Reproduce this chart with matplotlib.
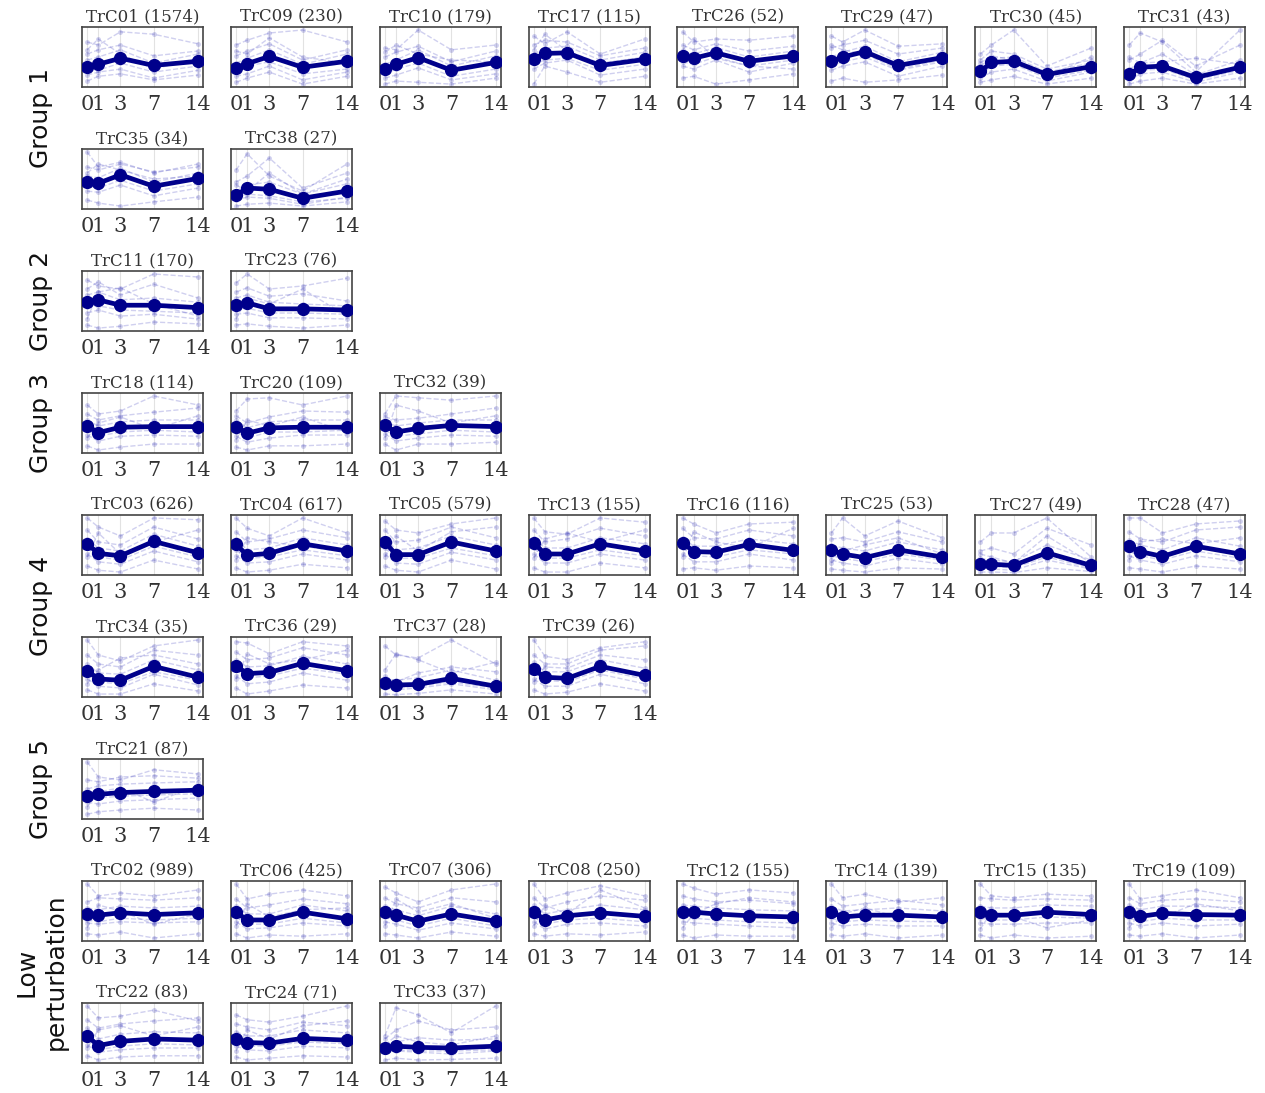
import matplotlib
matplotlib.use("Agg")
import matplotlib.pyplot as plt

# ---------------- data ----------------
# time points (days): the axis spaces them evenly-ish, not to scale
day_labels = ["0", "1", "3", "7", "14"]
x_pos = [0, 1, 3, 6, 10]

# group label -> rows of clusters (one list per figure row)
group_names = ["Group 1", "Group 2", "Group 3", "Group 4", "Group 5", "Low\nperturbation"]
group_rows = [
    [["TrC01", "TrC09", "TrC10", "TrC17", "TrC26", "TrC29", "TrC30", "TrC31"],
     ["TrC35", "TrC38"]],
    [["TrC11", "TrC23"]],
    [["TrC18", "TrC20", "TrC32"]],
    [["TrC03", "TrC04", "TrC05", "TrC13", "TrC16", "TrC25", "TrC27", "TrC28"],
     ["TrC34", "TrC36", "TrC37", "TrC39"]],
    [["TrC21"]],
    [["TrC02", "TrC06", "TrC07", "TrC08", "TrC12", "TrC14", "TrC15", "TrC19"],
     ["TrC22", "TrC24", "TrC33"]],
]

# number of genes in each cluster
sizes = {
    "TrC01": 1574, "TrC09": 230, "TrC10": 179, "TrC17": 115, "TrC26": 52,
    "TrC29": 47, "TrC30": 45, "TrC31": 43, "TrC35": 34, "TrC38": 27,
    "TrC11": 170, "TrC23": 76, "TrC18": 114, "TrC20": 109, "TrC32": 39,
    "TrC03": 626, "TrC04": 617, "TrC05": 579, "TrC13": 155, "TrC16": 116,
    "TrC25": 53, "TrC27": 49, "TrC28": 47, "TrC34": 35, "TrC36": 29,
    "TrC37": 28, "TrC39": 26, "TrC21": 87, "TrC02": 989, "TrC06": 425,
    "TrC07": 306, "TrC08": 250, "TrC12": 155, "TrC14": 139, "TrC15": 135,
    "TrC19": 109, "TrC22": 83, "TrC24": 71, "TrC33": 37,
}

# cluster mean profile (scaled 0..1 within each panel)
means = {
    "TrC01": [0.34, 0.38, 0.48, 0.36, 0.43],
    "TrC09": [0.31, 0.39, 0.51, 0.33, 0.43],
    "TrC10": [0.30, 0.38, 0.49, 0.28, 0.41],
    "TrC17": [0.47, 0.56, 0.57, 0.36, 0.46],
    "TrC26": [0.51, 0.48, 0.57, 0.43, 0.52],
    "TrC29": [0.43, 0.50, 0.59, 0.36, 0.49],
    "TrC30": [0.26, 0.41, 0.43, 0.21, 0.34],
    "TrC31": [0.21, 0.33, 0.35, 0.16, 0.33],
    "TrC35": [0.45, 0.43, 0.57, 0.38, 0.51],
    "TrC38": [0.23, 0.35, 0.33, 0.18, 0.30],
    "TrC11": [0.49, 0.52, 0.43, 0.43, 0.39],
    "TrC23": [0.43, 0.47, 0.37, 0.37, 0.35],
    "TrC18": [0.45, 0.34, 0.43, 0.44, 0.44],
    "TrC20": [0.44, 0.33, 0.42, 0.43, 0.43],
    "TrC32": [0.46, 0.35, 0.41, 0.46, 0.44],
    "TrC03": [0.52, 0.36, 0.32, 0.56, 0.37],
    "TrC04": [0.51, 0.33, 0.36, 0.52, 0.40],
    "TrC05": [0.55, 0.34, 0.34, 0.55, 0.40],
    "TrC13": [0.54, 0.35, 0.35, 0.52, 0.40],
    "TrC16": [0.54, 0.39, 0.38, 0.51, 0.41],
    "TrC25": [0.42, 0.35, 0.29, 0.42, 0.30],
    "TrC27": [0.19, 0.18, 0.16, 0.37, 0.16],
    "TrC28": [0.48, 0.39, 0.31, 0.48, 0.35],
    "TrC34": [0.44, 0.30, 0.28, 0.51, 0.33],
    "TrC36": [0.52, 0.39, 0.41, 0.56, 0.44],
    "TrC37": [0.23, 0.20, 0.21, 0.31, 0.18],
    "TrC39": [0.46, 0.33, 0.31, 0.51, 0.36],
    "TrC21": [0.39, 0.41, 0.44, 0.46, 0.48],
    "TrC02": [0.45, 0.43, 0.47, 0.44, 0.47],
    "TrC06": [0.48, 0.35, 0.35, 0.48, 0.37],
    "TrC07": [0.48, 0.43, 0.33, 0.45, 0.33],
    "TrC08": [0.49, 0.35, 0.42, 0.47, 0.41],
    "TrC12": [0.49, 0.48, 0.45, 0.42, 0.40],
    "TrC14": [0.48, 0.40, 0.43, 0.43, 0.40],
    "TrC15": [0.48, 0.43, 0.43, 0.48, 0.44],
    "TrC19": [0.49, 0.41, 0.46, 0.44, 0.43],
    "TrC22": [0.45, 0.29, 0.36, 0.40, 0.38],
    "TrC24": [0.40, 0.34, 0.33, 0.41, 0.38],
    "TrC33": [0.25, 0.28, 0.26, 0.25, 0.28],
}

# a handful of member profiles per cluster (the faint dashed lines)
members = {
    "TrC01": [[0.75, 0.70, 0.92, 0.88, 0.72], [0.55, 0.62, 0.70, 0.52, 0.60], [0.20, 0.25, 0.30, 0.15, 0.28],
              [0.10, 0.18, 0.22, 0.12, 0.20], [0.45, 0.50, 0.62, 0.40, 0.55], [0.30, 0.28, 0.40, 0.25, 0.35],
              [0.62, 0.80, 0.55, 0.30, 0.48]],
    "TrC09": [[0.70, 0.78, 0.90, 0.95, 0.75], [0.52, 0.60, 0.72, 0.45, 0.62], [0.18, 0.22, 0.35, 0.12, 0.25],
              [0.08, 0.15, 0.25, 0.05, 0.18], [0.40, 0.48, 0.62, 0.38, 0.55], [0.25, 0.35, 0.42, 0.22, 0.30],
              [0.60, 0.55, 0.82, 0.50, 0.40]],
    "TrC10": [[0.65, 0.62, 0.95, 0.62, 0.70], [0.50, 0.58, 0.68, 0.42, 0.60], [0.15, 0.20, 0.32, 0.12, 0.22],
              [0.05, 0.10, 0.08, 0.05, 0.15], [0.38, 0.45, 0.62, 0.35, 0.52], [0.22, 0.30, 0.40, 0.18, 0.30],
              [0.58, 0.70, 0.55, 0.45, 0.42]],
    "TrC17": [[0.85, 0.72, 0.92, 0.55, 0.80], [0.70, 0.78, 0.75, 0.52, 0.65], [0.30, 0.40, 0.45, 0.20, 0.30],
              [0.05, 0.35, 0.25, 0.08, 0.18], [0.55, 0.65, 0.68, 0.45, 0.58], [0.38, 0.45, 0.48, 0.28, 0.38],
              [0.62, 0.88, 0.60, 0.40, 0.50]],
    "TrC26": [[0.92, 0.75, 0.80, 0.78, 0.85], [0.70, 0.62, 0.72, 0.60, 0.68], [0.35, 0.30, 0.45, 0.25, 0.40],
              [0.15, 0.18, 0.05, 0.12, 0.22], [0.58, 0.55, 0.66, 0.50, 0.60], [0.42, 0.38, 0.50, 0.35, 0.45],
              [0.62, 0.80, 0.48, 0.35, 0.30]],
    "TrC29": [[0.85, 0.75, 0.95, 0.68, 0.72], [0.65, 0.70, 0.78, 0.55, 0.65], [0.28, 0.35, 0.42, 0.18, 0.35],
              [0.10, 0.15, 0.08, 0.12, 0.20], [0.50, 0.58, 0.68, 0.42, 0.58], [0.35, 0.42, 0.50, 0.28, 0.42],
              [0.70, 0.62, 0.55, 0.30, 0.45]],
    "TrC30": [[0.55, 0.70, 0.95, 0.35, 0.65], [0.45, 0.60, 0.55, 0.30, 0.45], [0.15, 0.25, 0.30, 0.10, 0.25],
              [0.08, 0.12, 0.18, 0.05, 0.15], [0.35, 0.48, 0.50, 0.25, 0.40], [0.20, 0.35, 0.38, 0.15, 0.28],
              [0.40, 0.52, 0.45, 0.18, 0.50]],
    "TrC31": [[0.70, 0.90, 0.75, 0.25, 0.95], [0.45, 0.55, 0.78, 0.35, 0.70], [0.12, 0.22, 0.25, 0.08, 0.25],
              [0.05, 0.10, 0.15, 0.05, 0.15], [0.30, 0.40, 0.55, 0.20, 0.45], [0.18, 0.28, 0.30, 0.12, 0.28],
              [0.50, 0.40, 0.42, 0.48, 0.38]],
    "TrC35": [[0.95, 0.70, 0.78, 0.60, 0.75], [0.70, 0.65, 0.75, 0.62, 0.70], [0.30, 0.28, 0.40, 0.22, 0.35],
              [0.15, 0.10, 0.05, 0.12, 0.20], [0.55, 0.52, 0.68, 0.45, 0.60], [0.38, 0.35, 0.48, 0.30, 0.42],
              [0.60, 0.75, 0.65, 0.50, 0.55]],
    "TrC38": [[0.65, 0.92, 0.55, 0.30, 0.75], [0.45, 0.55, 0.85, 0.35, 0.60], [0.15, 0.20, 0.18, 0.08, 0.20],
              [0.05, 0.08, 0.10, 0.05, 0.12], [0.30, 0.40, 0.45, 0.25, 0.42], [0.20, 0.25, 0.22, 0.12, 0.18],
              [0.40, 0.30, 0.60, 0.25, 0.50]],
    "TrC11": [[0.85, 0.75, 0.70, 0.95, 0.90], [0.70, 0.82, 0.60, 0.78, 0.55], [0.30, 0.35, 0.25, 0.28, 0.20],
              [0.10, 0.05, 0.08, 0.15, 0.12], [0.60, 0.65, 0.52, 0.55, 0.48], [0.40, 0.42, 0.35, 0.33, 0.30],
              [0.20, 0.65, 0.72, 0.45, 0.25]],
    "TrC23": [[0.80, 0.95, 0.70, 0.75, 0.88], [0.65, 0.72, 0.58, 0.62, 0.50], [0.28, 0.30, 0.22, 0.22, 0.20],
              [0.10, 0.12, 0.08, 0.05, 0.10], [0.55, 0.60, 0.48, 0.45, 0.42], [0.35, 0.38, 0.30, 0.30, 0.28],
              [0.20, 0.55, 0.45, 0.70, 0.25]],
    "TrC18": [[0.80, 0.65, 0.70, 0.95, 0.80], [0.65, 0.55, 0.62, 0.68, 0.75], [0.30, 0.20, 0.28, 0.30, 0.28],
              [0.12, 0.05, 0.10, 0.15, 0.15], [0.55, 0.45, 0.52, 0.55, 0.55], [0.38, 0.28, 0.35, 0.38, 0.35],
              [0.25, 0.50, 0.60, 0.40, 0.62]],
    "TrC20": [[0.70, 0.90, 0.92, 0.80, 0.95], [0.62, 0.50, 0.60, 0.70, 0.68], [0.28, 0.18, 0.25, 0.30, 0.30],
              [0.10, 0.05, 0.12, 0.12, 0.15], [0.55, 0.42, 0.52, 0.55, 0.55], [0.35, 0.25, 0.35, 0.35, 0.38],
              [0.22, 0.55, 0.45, 0.60, 0.35]],
    "TrC32": [[0.65, 0.95, 0.92, 0.88, 0.95], [0.60, 0.55, 0.58, 0.65, 0.75], [0.32, 0.20, 0.25, 0.30, 0.28],
              [0.15, 0.05, 0.15, 0.15, 0.18], [0.52, 0.45, 0.50, 0.55, 0.55], [0.38, 0.28, 0.32, 0.38, 0.35],
              [0.25, 0.80, 0.70, 0.50, 0.62]],
    "TrC03": [[0.95, 0.80, 0.65, 0.95, 0.92], [0.75, 0.55, 0.50, 0.80, 0.60], [0.35, 0.22, 0.18, 0.40, 0.22],
              [0.15, 0.08, 0.05, 0.25, 0.10], [0.60, 0.45, 0.40, 0.68, 0.48], [0.45, 0.30, 0.25, 0.48, 0.30],
              [0.30, 0.70, 0.35, 0.55, 0.75]],
    "TrC04": [[0.95, 0.78, 0.65, 0.95, 0.70], [0.72, 0.55, 0.60, 0.75, 0.62], [0.32, 0.20, 0.22, 0.35, 0.25],
              [0.12, 0.05, 0.08, 0.18, 0.12], [0.60, 0.42, 0.45, 0.62, 0.50], [0.42, 0.28, 0.30, 0.42, 0.32],
              [0.25, 0.62, 0.55, 0.48, 0.38]],
    "TrC05": [[0.90, 0.75, 0.70, 0.85, 0.95], [0.75, 0.55, 0.58, 0.80, 0.62], [0.35, 0.20, 0.18, 0.38, 0.25],
              [0.15, 0.08, 0.05, 0.25, 0.10], [0.62, 0.42, 0.45, 0.65, 0.50], [0.45, 0.28, 0.28, 0.45, 0.32],
              [0.30, 0.65, 0.40, 0.72, 0.80]],
    "TrC13": [[0.95, 0.72, 0.68, 0.95, 0.88], [0.75, 0.55, 0.60, 0.78, 0.65], [0.35, 0.20, 0.20, 0.35, 0.25],
              [0.12, 0.05, 0.05, 0.20, 0.12], [0.62, 0.45, 0.45, 0.62, 0.52], [0.45, 0.28, 0.28, 0.42, 0.32],
              [0.28, 0.60, 0.70, 0.55, 0.75]],
    "TrC16": [[0.95, 0.85, 0.70, 0.85, 0.88], [0.78, 0.62, 0.60, 0.75, 0.65], [0.35, 0.22, 0.22, 0.35, 0.25],
              [0.10, 0.12, 0.08, 0.15, 0.12], [0.62, 0.48, 0.48, 0.60, 0.52], [0.45, 0.32, 0.30, 0.42, 0.35],
              [0.30, 0.72, 0.55, 0.45, 0.78]],
    "TrC25": [[0.70, 0.95, 0.65, 0.90, 0.62], [0.60, 0.62, 0.55, 0.72, 0.55], [0.25, 0.20, 0.15, 0.28, 0.18],
              [0.10, 0.08, 0.05, 0.12, 0.10], [0.50, 0.45, 0.40, 0.55, 0.42], [0.32, 0.28, 0.22, 0.35, 0.25],
              [0.20, 0.40, 0.50, 0.62, 0.35]],
    "TrC27": [[0.55, 0.70, 0.70, 0.95, 0.30], [0.40, 0.45, 0.35, 0.78, 0.50], [0.12, 0.10, 0.08, 0.25, 0.10],
              [0.05, 0.05, 0.04, 0.12, 0.06], [0.28, 0.25, 0.22, 0.50, 0.25], [0.15, 0.14, 0.12, 0.30, 0.12],
              [0.35, 0.30, 0.20, 0.65, 0.20]],
    "TrC28": [[0.95, 0.95, 0.70, 0.85, 0.90], [0.72, 0.60, 0.55, 0.75, 0.80], [0.32, 0.25, 0.18, 0.32, 0.22],
              [0.12, 0.10, 0.05, 0.15, 0.10], [0.58, 0.50, 0.42, 0.62, 0.48], [0.40, 0.32, 0.25, 0.40, 0.28],
              [0.25, 0.55, 0.60, 0.52, 0.62]],
    "TrC34": [[0.95, 0.70, 0.60, 0.85, 0.95], [0.70, 0.55, 0.50, 0.78, 0.70], [0.30, 0.18, 0.15, 0.38, 0.20],
              [0.12, 0.05, 0.05, 0.22, 0.10], [0.55, 0.40, 0.38, 0.62, 0.45], [0.38, 0.25, 0.22, 0.42, 0.28],
              [0.22, 0.45, 0.65, 0.70, 0.55]],
    "TrC36": [[0.92, 0.90, 0.72, 0.92, 0.85], [0.75, 0.62, 0.65, 0.82, 0.70], [0.35, 0.22, 0.25, 0.40, 0.28],
              [0.15, 0.05, 0.10, 0.20, 0.15], [0.62, 0.50, 0.52, 0.68, 0.55], [0.45, 0.32, 0.35, 0.48, 0.38],
              [0.30, 0.72, 0.55, 0.62, 0.78]],
    "TrC37": [[0.85, 0.70, 0.65, 0.95, 0.55], [0.45, 0.72, 0.62, 0.40, 0.58], [0.15, 0.12, 0.15, 0.22, 0.12],
              [0.05, 0.04, 0.06, 0.12, 0.05], [0.30, 0.28, 0.32, 0.45, 0.28], [0.18, 0.15, 0.18, 0.25, 0.15],
              [0.35, 0.25, 0.40, 0.50, 0.42]],
    "TrC39": [[0.95, 0.68, 0.62, 0.82, 0.92], [0.70, 0.55, 0.55, 0.78, 0.85], [0.30, 0.18, 0.18, 0.38, 0.22],
              [0.12, 0.05, 0.08, 0.22, 0.10], [0.58, 0.42, 0.42, 0.62, 0.48], [0.40, 0.28, 0.25, 0.45, 0.30],
              [0.25, 0.50, 0.48, 0.70, 0.62]],
    "TrC21": [[0.95, 0.70, 0.65, 0.82, 0.75], [0.65, 0.62, 0.70, 0.72, 0.68], [0.28, 0.25, 0.30, 0.32, 0.35],
              [0.08, 0.12, 0.15, 0.18, 0.15], [0.50, 0.55, 0.58, 0.60, 0.62], [0.32, 0.35, 0.38, 0.40, 0.42],
              [0.20, 0.45, 0.52, 0.28, 0.55]],
    "TrC02": [[0.95, 0.75, 0.80, 0.75, 0.85], [0.65, 0.72, 0.70, 0.68, 0.72], [0.30, 0.28, 0.32, 0.30, 0.32],
              [0.12, 0.10, 0.15, 0.05, 0.12], [0.55, 0.52, 0.58, 0.55, 0.58], [0.35, 0.32, 0.38, 0.35, 0.38],
              [0.22, 0.60, 0.50, 0.28, 0.45]],
    "TrC06": [[0.95, 0.70, 0.78, 0.85, 0.75], [0.70, 0.55, 0.60, 0.70, 0.62], [0.32, 0.20, 0.22, 0.30, 0.25],
              [0.12, 0.05, 0.10, 0.08, 0.12], [0.58, 0.45, 0.45, 0.60, 0.50], [0.40, 0.28, 0.28, 0.38, 0.30],
              [0.25, 0.62, 0.40, 0.52, 0.55]],
    "TrC07": [[0.90, 0.80, 0.65, 0.85, 0.95], [0.72, 0.62, 0.55, 0.72, 0.65], [0.32, 0.28, 0.18, 0.30, 0.20],
              [0.12, 0.10, 0.05, 0.15, 0.08], [0.58, 0.52, 0.42, 0.58, 0.45], [0.40, 0.35, 0.25, 0.38, 0.25],
              [0.25, 0.70, 0.48, 0.62, 0.38]],
    "TrC08": [[0.95, 0.70, 0.80, 0.92, 0.75], [0.72, 0.55, 0.65, 0.75, 0.68], [0.32, 0.20, 0.28, 0.30, 0.25],
              [0.12, 0.08, 0.12, 0.10, 0.15], [0.60, 0.45, 0.52, 0.60, 0.52], [0.40, 0.28, 0.35, 0.38, 0.32],
              [0.25, 0.60, 0.45, 0.85, 0.55]],
    "TrC12": [[0.95, 0.88, 0.78, 0.85, 0.80], [0.75, 0.70, 0.65, 0.68, 0.62], [0.32, 0.30, 0.28, 0.25, 0.22],
              [0.10, 0.05, 0.10, 0.08, 0.08], [0.60, 0.58, 0.55, 0.52, 0.50], [0.40, 0.38, 0.35, 0.32, 0.30],
              [0.22, 0.45, 0.62, 0.72, 0.65]],
    "TrC14": [[0.95, 0.72, 0.78, 0.65, 0.72], [0.70, 0.58, 0.62, 0.68, 0.60], [0.30, 0.25, 0.28, 0.25, 0.25],
              [0.10, 0.08, 0.12, 0.05, 0.10], [0.58, 0.50, 0.52, 0.55, 0.50], [0.38, 0.32, 0.35, 0.33, 0.32],
              [0.22, 0.45, 0.55, 0.40, 0.42]],
    "TrC15": [[0.95, 0.75, 0.72, 0.78, 0.75], [0.72, 0.70, 0.68, 0.70, 0.68], [0.30, 0.28, 0.28, 0.30, 0.30],
              [0.10, 0.05, 0.10, 0.05, 0.08], [0.58, 0.55, 0.55, 0.60, 0.58], [0.38, 0.35, 0.35, 0.40, 0.38],
              [0.20, 0.48, 0.40, 0.22, 0.35]],
    "TrC19": [[0.95, 0.70, 0.75, 0.85, 0.72], [0.72, 0.62, 0.68, 0.70, 0.65], [0.30, 0.25, 0.30, 0.25, 0.28],
              [0.10, 0.08, 0.12, 0.05, 0.10], [0.60, 0.52, 0.58, 0.58, 0.55], [0.38, 0.32, 0.38, 0.35, 0.35],
              [0.22, 0.48, 0.40, 0.62, 0.50]],
    "TrC22": [[0.95, 0.75, 0.78, 0.88, 0.70], [0.72, 0.58, 0.65, 0.70, 0.75], [0.30, 0.18, 0.22, 0.25, 0.25],
              [0.12, 0.05, 0.10, 0.12, 0.12], [0.58, 0.40, 0.48, 0.52, 0.50], [0.38, 0.22, 0.28, 0.32, 0.30],
              [0.25, 0.55, 0.62, 0.45, 0.60]],
    "TrC24": [[0.80, 0.72, 0.68, 0.78, 0.95], [0.65, 0.60, 0.55, 0.68, 0.62], [0.28, 0.22, 0.20, 0.28, 0.25],
              [0.10, 0.05, 0.08, 0.12, 0.10], [0.52, 0.45, 0.45, 0.55, 0.50], [0.35, 0.28, 0.28, 0.35, 0.32],
              [0.20, 0.55, 0.40, 0.62, 0.70]],
    "TrC33": [[0.45, 0.92, 0.80, 0.50, 0.95], [0.40, 0.55, 0.70, 0.55, 0.60], [0.18, 0.20, 0.18, 0.15, 0.20],
              [0.05, 0.08, 0.05, 0.06, 0.08], [0.32, 0.35, 0.42, 0.38, 0.40], [0.20, 0.22, 0.20, 0.20, 0.22],
              [0.30, 0.45, 0.35, 0.30, 0.45]],
}

# ---------------- plot ----------------
W, H, DPI = 1265, 1093, 100
n_rows = sum(len(rows) for rows in group_rows)
n_cols = 8

fig = plt.figure(figsize=(W / DPI, H / DPI), dpi=DPI)
gs = fig.add_gridspec(n_rows, n_cols, left=82 / W, right=1245 / W,
                      top=1 - 27 / H, bottom=1 - 1063 / H,
                      wspace=0.23, hspace=1.03)

line_col = "#00008b"
serif = "DejaVu Serif"

r = 0
for gname, rows in zip(group_names, group_rows):
    first_ax = last_ax = None
    for clusters in rows:
        for c, name in enumerate(clusters):
            ax = fig.add_subplot(gs[r, c])
            for prof in members[name]:
                ax.plot(x_pos, prof, ls="--", lw=1.0, color="#2a2ab8", alpha=0.22,
                        marker="o", ms=3.5, mew=0)
            ax.plot(x_pos, means[name], color=line_col, lw=3.4, marker="o", ms=8.5, zorder=5)
            ax.set_ylim(0, 1)
            ax.set_xlim(-0.47, 10.45)
            ax.set_xticks(x_pos)
            ax.set_xticklabels(day_labels, fontfamily=serif, fontsize=15, color="#333333")
            ax.tick_params(axis="x", length=0, pad=6)
            ax.set_yticks([])
            for x in x_pos:
                ax.axvline(x, color="#e2e2e2", lw=0.8, zorder=0)
            for sp in ax.spines.values():
                sp.set_color("#444444")
                sp.set_linewidth(1.2)
            ax.set_title(f"{name} ({sizes[name]})", fontfamily=serif, fontsize=12,
                         color="#333333", pad=4)
            if c == 0:
                if first_ax is None:
                    first_ax = ax
                last_ax = ax
        r += 1
    # group label centred on the block of rows
    top = first_ax.get_position().y1
    bot = last_ax.get_position().y0
    fig.text(41 / W, (top + bot) / 2, gname, rotation=90, ha="center", va="center",
             fontsize=18, color="#111111", family="DejaVu Sans", linespacing=1.25)

fig.savefig("out.png", dpi=DPI)
